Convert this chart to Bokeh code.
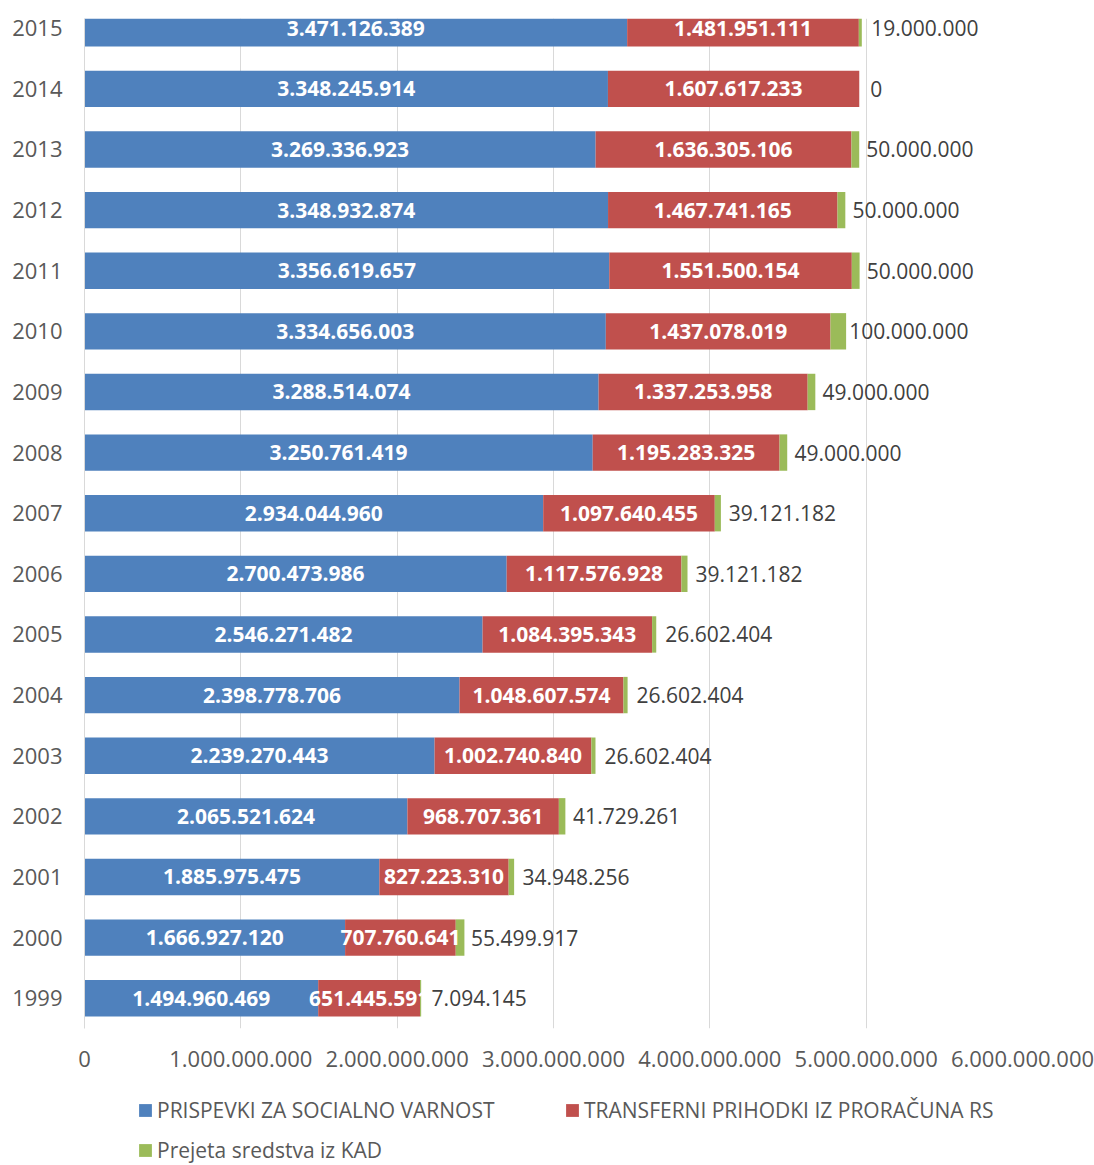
from bokeh.plotting import figure
from bokeh.models import ColumnDataSource, Range1d, FixedTicker, Legend, LegendItem
from bokeh.layouts import column
from bokeh.core.properties import value
from bokeh.embed import file_html
from bokeh.resources import INLINE

years = [1999, 2000, 2001, 2002, 2003, 2004, 2005, 2006, 2007,
         2008, 2009, 2010, 2011, 2012, 2013, 2014, 2015]
prispevki = [1494960469, 1666927120, 1885975475, 2065521624, 2239270443,
             2398778706, 2546271482, 2700473986, 2934044960, 3250761419,
             3288514074, 3334656003, 3356619657, 3348932874, 3269336923,
             3348245914, 3471126389]
transferni = [651445591, 707760641, 827223310, 968707361, 1002740840,
              1048607574, 1084395343, 1117576928, 1097640455, 1195283325,
              1337253958, 1437078019, 1551500154, 1467741165, 1636305106,
              1607617233, 1481951111]
kad = [7094145, 55499917, 34948256, 41729261, 26602404, 26602404,
       26602404, 39121182, 39121182, 49000000, 49000000, 100000000,
       50000000, 50000000, 50000000, 0, 19000000]
series_names = ["PRISPEVKI ZA SOCIALNO VARNOST",
                "TRANSFERNI PRIHODKI IZ PRORAČUNA RS",
                "Prejeta sredstva iz KAD"]
colors = ["#4f81bd", "#c0504d", "#9bbb59"]
x_ticks = [0, 1000000000, 2000000000, 3000000000, 4000000000,
           5000000000, 6000000000]


def fmt(v):
    return f"{int(v):,}".replace(",", ".")


FONT = value("Open Sans")
n = len(years)
ys = list(range(n))
l0 = [0] * n
r0 = prispevki[:]
l1 = r0[:]
r1 = [a + b for a, b in zip(r0, transferni)]
l2 = r1[:]
r2 = [a + b for a, b in zip(r1, kad)]

src = ColumnDataSource(dict(
    y=ys, l0=l0, r0=r0, l1=l1, r1=r1, l2=l2, r2=r2,
    c0=[(a + b) / 2 for a, b in zip(l0, r0)],
    c1=[(a + b) / 2 for a, b in zip(l1, r1)],
    c2=[(a + b) / 2 for a, b in zip(l2, r2)],
    t0=[fmt(v) for v in prispevki],
    t1=[fmt(v) for v in transferni],
    t2=[fmt(v) for v in kad],
))

p = figure(width=1094, height=1080, output_backend="svg", toolbar_location=None,
           x_range=Range1d(0, 6000000000), y_range=Range1d(-0.5, 16.16),
           min_border_left=84, min_border_right=72, min_border_top=18,
           min_border_bottom=52)
p.outline_line_color = None
p.background_fill_color = "white"
p.border_fill_color = "white"

rends = []
for i in range(3):
    rends.append(p.hbar(y="y", left=f"l{i}", right=f"r{i}", height=0.6,
                        source=src, fill_color=colors[i], line_color=None))

for i in range(2):
    p.text(x=f"c{i}", y="y", text=f"t{i}", source=src, text_align="center",
           text_baseline="middle", text_color="white", text_font=FONT,
           text_font_size="21px", text_font_style="bold")
p.text(x="c2", y="y", text="t2", source=src, text_align="left",
       text_baseline="middle", text_color="#404040", text_font=FONT,
       text_font_size="21px", x_offset=11)

p.ygrid.grid_line_color = None
p.xgrid.grid_line_color = "#d9d9d9"
p.xgrid.ticker = FixedTicker(ticks=x_ticks)

p.yaxis.ticker = FixedTicker(ticks=ys)
p.yaxis.major_label_overrides = {i: str(y) for i, y in zip(ys, years)}
p.xaxis.ticker = FixedTicker(ticks=x_ticks)
p.xaxis.major_label_overrides = {t: fmt(t) for t in x_ticks}
for ax in (p.xaxis, p.yaxis):
    ax.major_tick_line_color = None
    ax.minor_tick_line_color = None
    ax.major_label_text_font = "Open Sans"
    ax.major_label_text_font_size = "22px"
    ax.major_label_text_color = "#595959"
p.xaxis.axis_line_color = None
p.yaxis.axis_line_color = "#d9d9d9"
p.yaxis.major_label_standoff = 16
p.xaxis.major_label_standoff = 16

# legend strip (its frame is aligned with the chart frame in the column)
pl = figure(width=1094, height=85, output_backend="svg", toolbar_location=None,
            x_range=Range1d(0, 1), y_range=Range1d(0, 1),
            min_border=0, x_axis_location=None, y_axis_location=None)
pl.outline_line_color = None
pl.grid.visible = False
pl.background_fill_color = "white"
pl.border_fill_color = "white"
# swatch-only renderers placed outside the visible range
lsrc = ColumnDataSource(dict(y=[-5], l=[0], r=[0]))
lrends = [pl.hbar(y="y", left="l", right="r", height=0.5, source=lsrc,
                  fill_color=c, line_color=None) for c in colors]


def make_legend(idx, loc):
    return Legend(items=[LegendItem(label=series_names[i], renderers=[lrends[i]])
                         for i in idx],
                  orientation="horizontal", location=loc,
                  padding=0, margin=0, spacing=18, glyph_width=16,
                  glyph_height=16, label_standoff=4, label_width=389,
                  label_height=26, border_line_color=None,
                  background_fill_alpha=0,
                  label_text_font="Open Sans", label_text_font_size="21px",
                  label_text_color="#595959")


pl.add_layout(make_legend([0, 1], (53, 41)))
pl.add_layout(make_legend([2], (53, 1)))

open("out.html", "w").write(file_html(column(p, pl, spacing=0), INLINE))
